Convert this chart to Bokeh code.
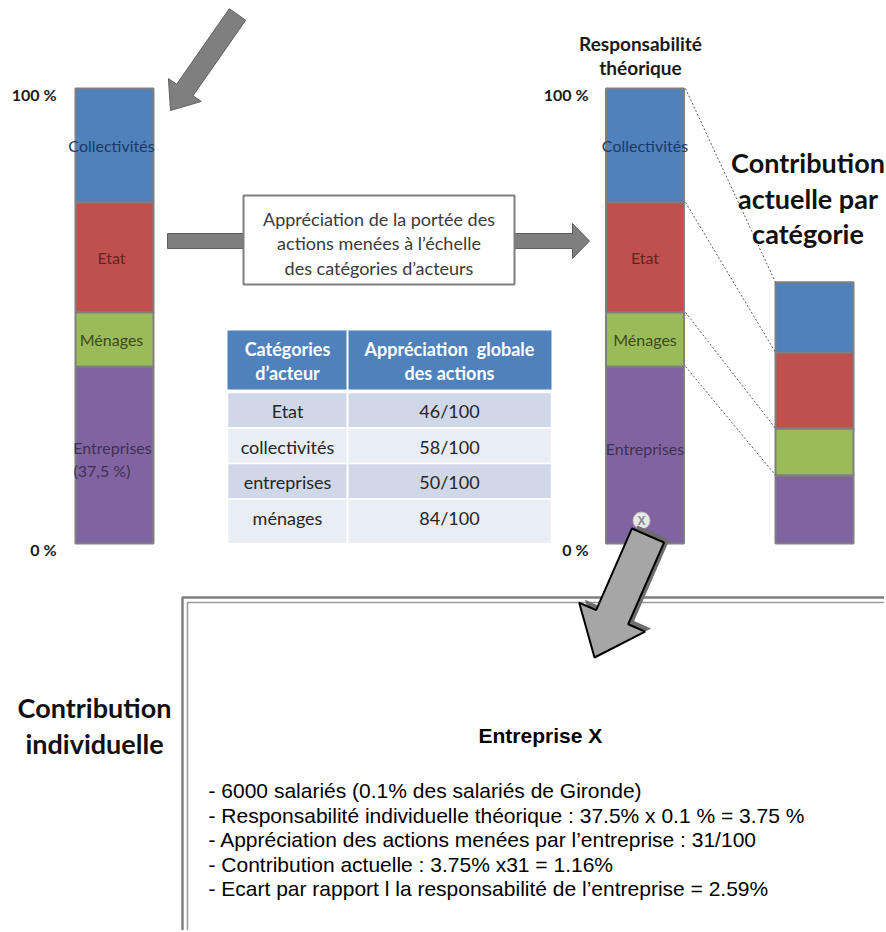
import numpy as np
from bokeh.plotting import figure
from bokeh.models import Range1d, ColumnDataSource
from bokeh.core.properties import value
from bokeh.embed import file_html
from bokeh.resources import INLINE

# ---------------- data ----------------
segments = ["Entreprises", "Ménages", "Etat", "Collectivités"]          # bottom -> top
seg_colors = ["#8064A2", "#9BBB59", "#C0504D", "#4F81BD"]
seg_label_colors = ["#3F3151", "#3B4A1E", "#632523", "#1F3864"]
theoretical = [38.9, 11.9, 24.2, 25.0]      # responsabilité théorique (% of bar)
actual = [15.0, 10.3, 16.7, 15.4]           # contribution actuelle par catégorie

table_categories = ["Etat", "collectivités", "entreprises", "ménages"]
table_scores = [46, 58, 50, 84]
table_head_1 = ["Catégories", "d’acteur"]
table_head_2 = ["Appréciation\u00a0 globale", "des actions"]

axis_labels = ["100 %", "0 %"]
axis_values = [100, 0]

box_lines = ["Appréciation de la portée des", "actions menées à l’échelle", "des catégories d’acteurs"]
title_right = ["Contribution", "actuelle par", "catégorie"]
title_left = ["Contribution", "individuelle"]
resp_title = ["Responsabilité", "théorique"]
ent_title = "Entreprise X"
ent_lines = [
    "- 6000 salariés (0.1% des salariés de Gironde)",
    "- Responsabilité individuelle théorique : 37.5% x 0.1 % = 3.75 %",
    "- Appréciation des actions menées par l’entreprise : 31/100",
    "- Contribution actuelle : 3.75% x31 = 1.16%",
    "- Ecart par rapport l la responsabilité de l’entreprise = 2.59%",
]

# ---------------- layout ----------------
W, H = 884, 930
PCT_TOP, PCT_BOT = 88.0, 543.0           # pixel rows of 100 % and 0 %
span = PCT_BOT - PCT_TOP
pct_start = (PCT_BOT - H) / span * 100
pct_end = PCT_BOT / span * 100

p = figure(width=W, height=H, x_range=Range1d(0, W), y_range=Range1d(H, 0),
           x_axis_type=None, y_axis_type=None, toolbar_location=None,
           output_backend="svg", min_border=0)
p.outline_line_color = None
p.background_fill_color = "white"
p.extra_y_ranges = {"pct": Range1d(pct_start, pct_end)}

CAL = value("Lato")
ARIAL = value("Liberation Sans")


def txt(x, y, s, size, color="#1a1a1a", bold=False, align="center", font=CAL,
        rng="default", yoff=0):
    s = list(s) if isinstance(s, (list, tuple)) else [s]
    n = len(s)
    xs = list(x) if isinstance(x, (list, tuple, np.ndarray)) else [x] * n
    ys = list(y) if isinstance(y, (list, tuple, np.ndarray)) else [y] * n
    p.text(x=xs, y=ys, text=s, text_font=font,
           text_font_size=f"{size}px", text_color=color,
           text_font_style="bold" if bold else "normal", text_align=align,
           text_baseline="middle", y_range_name=rng, y_offset=yoff)


def block_arrow(tail, tip, half_w, head_half, head_len):
    t = np.array(tail, float)
    e = np.array(tip, float)
    d = (e - t) / np.linalg.norm(e - t)
    nrm = np.array([-d[1], d[0]])
    b = e - d * head_len
    pts = [t + nrm * half_w, b + nrm * half_w, b + nrm * head_half, e,
           b - nrm * head_half, b - nrm * half_w, t - nrm * half_w]
    return [q[0] for q in pts], [q[1] for q in pts]


# ---- top-left arrow ----
ax, ay = block_arrow((237, 14), (170, 110), 10, 20, 25)
p.patch(ax, ay, fill_color="#7f7f7f", line_color="#5f5f5f", line_width=1)

# ---- horizontal arrow + central box ----
ax, ay = block_arrow((167, 240.5), (589, 240.5), 7.5, 17.5, 17)
p.patch(ax, ay, fill_color="#7f7f7f", line_color="#5f5f5f", line_width=1)
p.quad(left=[243], right=[514], top=[195], bottom=[284], fill_color="white",
       line_color="#7f7f7f", line_width=2)
txt(378.5, [218, 242.5, 267], box_lines, 18, color="#3a3a3a")

# ---- stacked bars ----
def stack(vals):
    tops = np.cumsum(vals)
    return tops - np.array(vals), tops

BAR_W = 78
for xc, vals in [(114, theoretical), (644.5, theoretical), (814, actual)]:
    bot, top = stack(vals)
    src = ColumnDataSource(dict(x=[xc] * len(vals), bottom=bot, top=top, color=seg_colors))
    p.vbar(x="x", width=BAR_W, bottom="bottom", top="top", fill_color="color",
           line_color="#7f7f7f", line_width=2, source=src, y_range_name="pct")

# labels inside the theoretical bars
tb, tt = stack(theoretical)
mids = (tb + tt) / 2
for xc in (111, 644.5):
    for i, name in enumerate(segments):
        if name == "Entreprises":
            continue
        txt(xc, mids[i], name, 16, color=seg_label_colors[i], rng="pct")
txt(112, mids[0], "Entreprises", 16, color=seg_label_colors[0], rng="pct", yoff=-8)
txt(73, mids[0], "(37,5 %)", 16, color=seg_label_colors[0], rng="pct", yoff=15, align="left")
txt(644.5, mids[0], "Entreprises", 16, color=seg_label_colors[0], rng="pct", yoff=-7)

# dotted connectors between bar 2 and bar 3
ab, at = stack(actual)
p.segment(x0=[685] * 4, y0=list(tt), x1=[775] * 4, y1=list(at), line_color="#5a5a5a",
          line_width=1, line_dash="2 2", y_range_name="pct")

# axis labels
for xr in (56, 588):
    txt(xr, axis_values, axis_labels, 16, color="#1a1a1a", bold=True, align="right",
        rng="pct", yoff=6)

txt(640, [43, 67], resp_title, 19, bold=True)
txt(807.5, [162, 198, 233], title_right, 27, bold=True, color="#111111")

# ---- table ----
TL, TM, TR = 227, 347, 551
p.quad(left=[TL], right=[TR], top=[330], bottom=[389], fill_color="#4F81BD", line_color=None)
row_h = 35.5
row_top = 392 + row_h * np.arange(len(table_categories))
row_bot = row_top + row_h
row_bot[-1] = 543
row_cols = ["#D0D8E8" if i % 2 == 0 else "#E9EDF4" for i in range(len(table_categories))]
p.quad(left=TL, right=TR, top=list(row_top), bottom=list(row_bot), fill_color=row_cols,
       line_color="white", line_width=1.5)
p.segment(x0=[TM], y0=[330], x1=[TM], y1=[543], line_color="white", line_width=2)
txt((TL + TM) / 2, [348, 372], table_head_1, 18, color="white", bold=True)
txt((TM + TR) / 2, [348, 372], table_head_2, 18, color="white", bold=True)
row_mid = list(row_top + row_h / 2 + 1)
txt((TL + TM) / 2, row_mid, table_categories, 18, color="#262626")
txt((TM + TR) / 2, row_mid, [f"{s}/100" for s in table_scores], 18, color="#262626")

# ---- bottom box ----
p.line(x=[900, 182, 182], y=[597, 597, 940], line_color="#808080", line_width=2.5)
p.line(x=[900, 187, 187], y=[602, 602, 940], line_color="#9a9a9a", line_width=1.5)
txt(94, [707, 743], title_left, 27, bold=True, color="#111111")
txt(478, 735, ent_title, 21, bold=True, color="black", align="left", font=ARIAL)
txt(208, [790, 815, 839, 863.5, 888], ent_lines, 21, color="black", align="left", font=ARIAL)

# ---- marker X and bottom arrow ----
p.scatter(x=[641], y=[520], size=17, fill_color="#e8e8e8", line_color="#bbbbbb")
txt(641, 520, "X", 12, color="#8a8a8a", bold=True, font=ARIAL)
sx, sy = block_arrow((653, 532), (600, 654), 17.5, 36, 44)
p.patch(sx, sy, fill_color="#6e6e6e", line_color=None)
ax, ay = block_arrow((647.5, 535), (594, 657), 17.5, 36, 44)
p.patch(ax, ay, fill_color="#a6a6a6", line_color="black", line_width=2)

open("out.html", "w").write(file_html(p, INLINE))
